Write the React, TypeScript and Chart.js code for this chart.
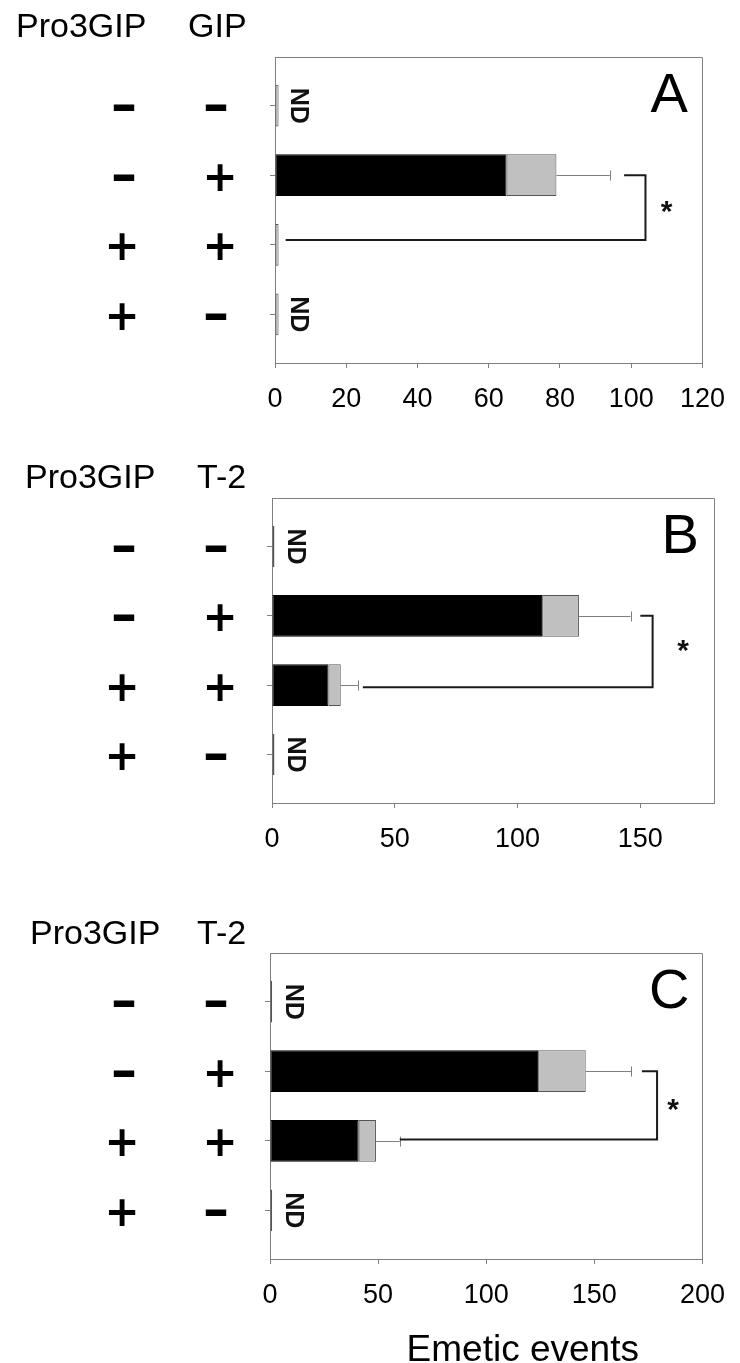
import React, { useEffect, useRef } from 'react';
import { Chart, registerables } from 'chart.js';

Chart.register(...registerables);

// ---- shared row definitions ----
const ROW_POS = [1, 2, 3, 4];
const PRO3GIP_SIGNS = ['–', '–', '+', '+'];
const AGONIST_SIGNS = ['–', '+', '+', '–'];
const ND_ROWS = [true, false, false, true];
const X_TITLE = 'Emetic events';

// ---- panel A ----
const A_LETTER = 'A';
const A_HEADERS = ['Pro3GIP', 'GIP'];
const A_BLACK = [0, 65, 0, 0];
const A_GREY = [1, 14, 1, 1];
const A_SEM = [0, 15, 0, 0];
const A_TICKS = [0, 20, 40, 60, 80, 100, 120];
const A_MAX = 120;
const A_BRACKET = [98, 104, 3, 2, 2.93]; // start x, right x, end x, top row, bottom row
const A_STAR = [110, 2.45];

// ---- panel B ----
const B_LETTER = 'B';
const B_HEADERS = ['Pro3GIP', 'T-2'];
const B_BLACK = [0, 110, 23, 0];
const B_GREY = [1, 15, 5, 1];
const B_SEM = [0, 21, 7, 0];
const B_TICKS = [0, 50, 100, 150];
const B_MAX = 180;
const B_BRACKET = [150, 155, 37, 2, 3.03];
const B_STAR = [167.5, 2.43];

// ---- panel C ----
const C_LETTER = 'C';
const C_HEADERS = ['Pro3GIP', 'T-2'];
const C_BLACK = [0, 124, 41, 0];
const C_GREY = [1, 22, 8, 1];
const C_SEM = [0, 21, 11, 0];
const C_TICKS = [0, 50, 100, 150, 200];
const C_MAX = 200;
const C_BRACKET = [172, 179, 60, 2, 2.98];
const C_STAR = [186.5, 2.49];

const SANS = '"Liberation Sans", Arial, sans-serif';
const SIGN_FONT = '"DejaVu Sans", sans-serif';

type PanelCfg = {
  letter: string;
  headers: string[];
  black: number[];
  grey: number[];
  sem: number[];
  ticks: number[];
  max: number;
  bracket: number[];
  star: number[];
  showTitle: boolean;
  top: number;
  height: number;
  padding: { left: number; right: number; top: number; bottom: number };
  headerX: number[];
  headerY: number;
};

const PANELS: PanelCfg[] = [
  {
    letter: A_LETTER, headers: A_HEADERS, black: A_BLACK, grey: A_GREY, sem: A_SEM,
    ticks: A_TICKS, max: A_MAX, bracket: A_BRACKET, star: A_STAR, showTitle: false,
    top: 0, height: 440, padding: { left: 270, right: 28, top: 57, bottom: 17 },
    headerX: [16, 188], headerY: 28,
  },
  {
    letter: B_LETTER, headers: B_HEADERS, black: B_BLACK, grey: B_GREY, sem: B_SEM,
    ticks: B_TICKS, max: B_MAX, bracket: B_BRACKET, star: B_STAR, showTitle: false,
    top: 445, height: 440, padding: { left: 267, right: 26, top: 53, bottom: 22 },
    headerX: [25, 197], headerY: 34,
  },
  {
    letter: C_LETTER, headers: C_HEADERS, black: C_BLACK, grey: C_GREY, sem: C_SEM,
    ticks: C_TICKS, max: C_MAX, bracket: C_BRACKET, star: C_STAR, showTitle: true,
    top: 890, height: 473, padding: { left: 265, right: 27, top: 63, bottom: 44 },
    headerX: [30, 197], headerY: 45,
  },
];

function drawInkCentered(ctx: CanvasRenderingContext2D, text: string, cx: number, cy: number) {
  ctx.textAlign = 'left';
  ctx.textBaseline = 'alphabetic';
  const m = ctx.measureText(text);
  const w = m.actualBoundingBoxRight + m.actualBoundingBoxLeft;
  ctx.fillText(
    text,
    cx - w / 2 + m.actualBoundingBoxLeft,
    cy + (m.actualBoundingBoxAscent - m.actualBoundingBoxDescent) / 2
  );
}

function makeDecor(cfg: PanelCfg) {
  return {
    id: 'decor' + cfg.letter,
    afterDatasetsDraw(chart: any) {
      const ctx: CanvasRenderingContext2D = chart.ctx;
      const xs = chart.scales.x;
      const ys = chart.scales.y;
      const area = chart.chartArea;
      const px = (v: number) => xs.getPixelForValue(v);
      const py = (v: number) => ys.getPixelForValue(v);
      ctx.save();

      // plot frame (top + right)
      ctx.strokeStyle = '#808080';
      ctx.lineWidth = 1;
      ctx.beginPath();
      ctx.moveTo(Math.round(area.left) + 0.5, Math.round(area.top) + 0.5);
      ctx.lineTo(Math.round(area.right) + 0.5, Math.round(area.top) + 0.5);
      ctx.lineTo(Math.round(area.right) + 0.5, Math.round(area.bottom) + 0.5);
      ctx.stroke();

      // error bars
      ctx.strokeStyle = '#7f7f7f';
      ctx.lineWidth = 1;
      ROW_POS.forEach((r, i) => {
        if (!cfg.sem[i]) return;
        const total = cfg.black[i] + cfg.grey[i];
        const x0 = px(total);
        const x1 = px(total + cfg.sem[i]);
        const y = Math.round(py(r)) + 0.5;
        ctx.beginPath();
        ctx.moveTo(x0, y);
        ctx.lineTo(x1, y);
        ctx.moveTo(Math.round(x1) + 0.5, y - 5);
        ctx.lineTo(Math.round(x1) + 0.5, y + 5);
        ctx.stroke();
      });

      // significance bracket
      const [bs, br, be, rt, rb] = cfg.bracket;
      ctx.strokeStyle = '#1a1a1a';
      ctx.lineWidth = 2;
      ctx.beginPath();
      ctx.moveTo(px(bs), py(rt));
      ctx.lineTo(px(br), py(rt));
      ctx.lineTo(px(br), py(rb));
      ctx.lineTo(px(be), py(rb));
      ctx.stroke();

      // asterisk
      ctx.fillStyle = '#111';
      ctx.font = `bold 30px ${SANS}`;
      drawInkCentered(ctx, '*', px(cfg.star[0]), py(cfg.star[1]));

      // ND labels (rotated)
      ctx.font = `bold 25px ${SANS}`;
      ROW_POS.forEach((r, i) => {
        if (!ND_ROWS[i]) return;
        ctx.save();
        ctx.translate(area.left + 25, py(r));
        ctx.rotate(Math.PI / 2);
        drawInkCentered(ctx, 'ND', 0, 0);
        ctx.restore();
      });

      // panel letter
      ctx.fillStyle = '#000';
      ctx.font = `56px ${SANS}`;
      drawInkCentered(ctx, cfg.letter, area.right - 33, area.top + 36);

      // header labels
      ctx.font = `34px ${SANS}`;
      ctx.textAlign = 'left';
      ctx.textBaseline = 'middle';
      ctx.fillText(cfg.headers[0], cfg.headerX[0], cfg.headerY);
      ctx.fillText(cfg.headers[1], cfg.headerX[1], cfg.headerY);

      // treatment signs
      ROW_POS.forEach((r, i) => {
        const y = py(r);
        [PRO3GIP_SIGNS[i], AGONIST_SIGNS[i]].forEach((s, c) => {
          ctx.font = s === '+' ? `bold 42px ${SIGN_FONT}` : `bold 52px ${SIGN_FONT}`;
          const cx = c === 0 ? (s === '+' ? 122 : 124) : (s === '+' ? 220 : 216);
          drawInkCentered(ctx, s, cx, y + 2);
        });
      });

      // axis title (bottom panel)
      if (cfg.showTitle) {
        ctx.font = `37px ${SANS}`;
        drawInkCentered(ctx, X_TITLE, area.left + 254, area.bottom + 88);
      }
      ctx.restore();
    },
  };
}

function Panel({ cfg }: { cfg: PanelCfg }) {
  const ref = useRef<HTMLCanvasElement>(null);
  useEffect(() => {
    const canvas = ref.current!;
    const chart = new Chart(canvas, {
      type: 'bar',
      data: {
        datasets: [
          {
            label: 'black',
            data: cfg.black.map((v, i) => ({ x: v, y: ROW_POS[i] })),
            backgroundColor: '#000',
            borderColor: '#000',
            borderWidth: 1,
            borderSkipped: false,
            barPercentage: 0.6,
            categoryPercentage: 1,
          },
          {
            label: 'grey',
            data: cfg.grey.map((v, i) => ({ x: v, y: ROW_POS[i] })),
            backgroundColor: '#c0c0c0',
            borderColor: '#555',
            borderWidth: 1,
            borderSkipped: false,
            barPercentage: 0.6,
            categoryPercentage: 1,
          },
        ] as any,
      },
      options: {
        indexAxis: 'y',
        responsive: false,
        animation: false,
        layout: { padding: cfg.padding },
        plugins: { legend: { display: false }, tooltip: { enabled: false }, title: { display: false } },
        scales: {
          x: {
            type: 'linear',
            min: 0,
            max: cfg.max,
            stacked: true,
            offset: false,
            afterBuildTicks: (s: any) => {
              s.ticks = cfg.ticks.map((v) => ({ value: v }));
            },
            afterFit: (s: any) => {
              s.height = 60;
            },
            grid: { drawOnChartArea: false, tickLength: 5, color: '#808080', offset: false },
            border: { color: '#808080', width: 1 },
            ticks: {
              color: '#000',
              padding: 15,
              maxRotation: 0,
              autoSkip: false,
              font: { family: SANS, size: 27 },
            },
          },
          y: {
            type: 'linear',
            reverse: true,
            min: 0.3,
            max: 4.7,
            stacked: true,
            offset: false,
            afterBuildTicks: (s: any) => {
              s.ticks = ROW_POS.map((v) => ({ value: v }));
            },
            afterFit: (s: any) => {
              s.width = 5;
            },
            grid: { drawOnChartArea: false, tickLength: 5, color: '#808080', offset: false },
            border: { color: '#808080', width: 1 },
            ticks: { display: false },
          },
        },
      } as any,
      plugins: [makeDecor(cfg)],
    });
    return () => chart.destroy();
  }, [cfg]);
  return (
    <div style={{ position: 'absolute', left: 0, top: cfg.top, width: 740, height: cfg.height }}>
      <canvas ref={ref} width={740} height={cfg.height} style={{ display: 'block', width: 740, height: cfg.height }} />
    </div>
  );
}

export default function App() {
  return (
    <div style={{ position: 'absolute', left: 0, top: 0, width: 740, height: 1363, background: '#fff' }}>
      {PANELS.map((p) => (
        <Panel key={p.letter} cfg={p} />
      ))}
    </div>
  );
}
